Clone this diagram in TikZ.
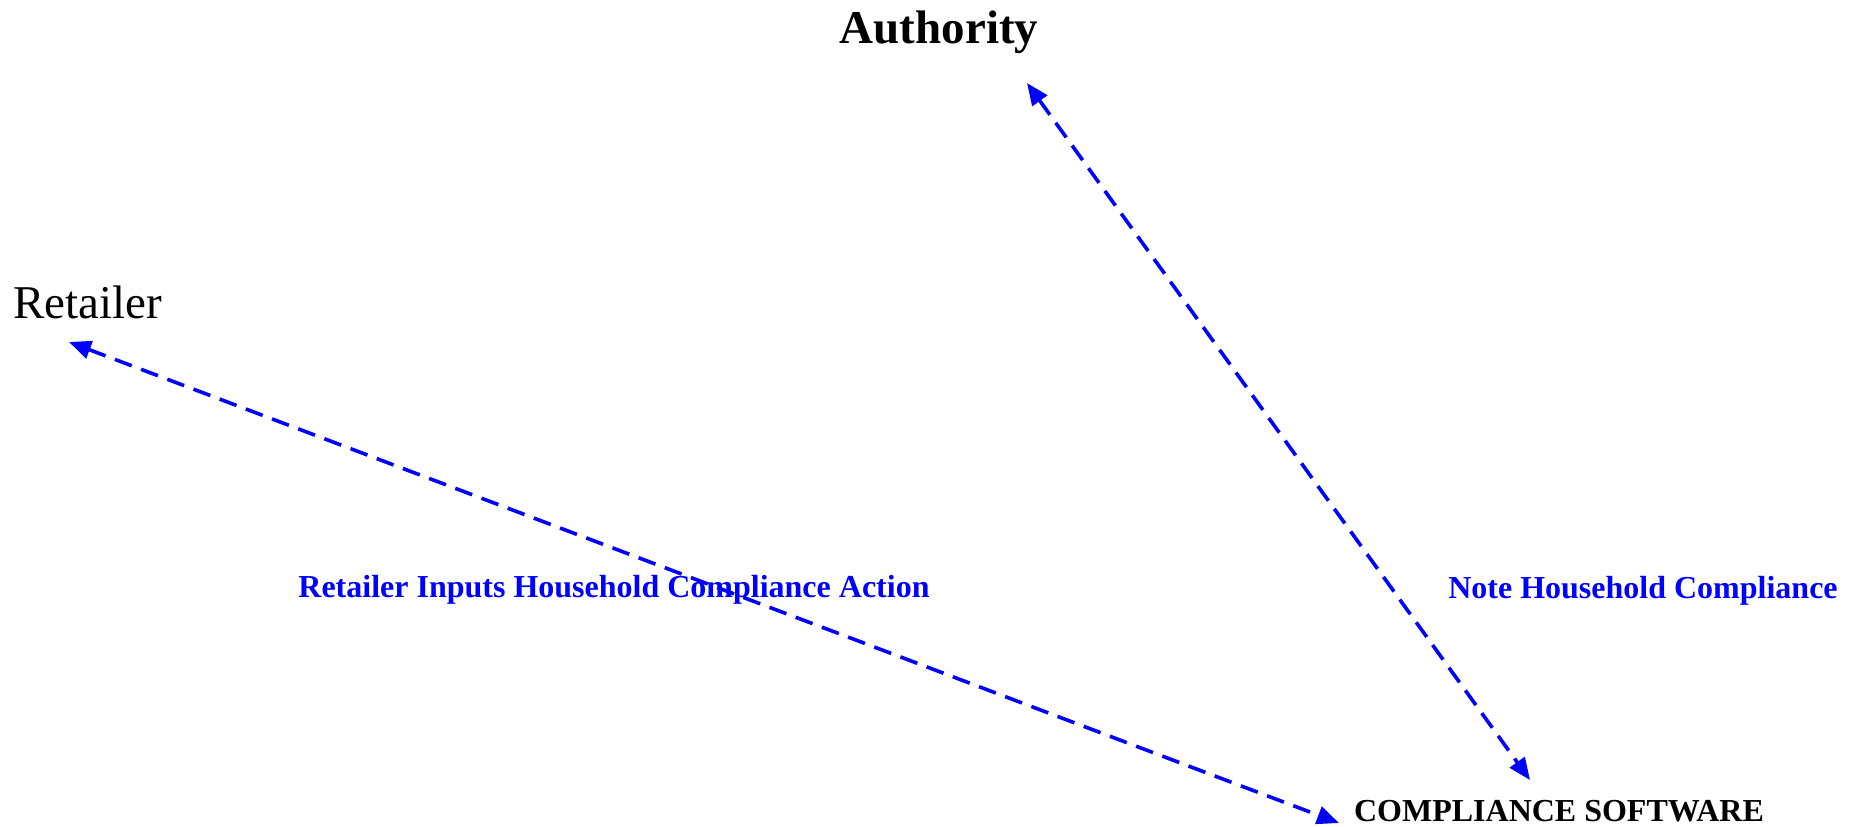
\documentclass[tikz,border=0pt]{standalone}
\usepackage{fontspec}
\setmainfont{Liberation Serif}
\usetikzlibrary{arrows.meta}

\tikzset{
	party/.style={inner sep=0pt, anchor=base, font=\fontsize{23.5}{28}\selectfont},
	flow/.style={blue, line width=1.8pt, dash pattern=on 9pt off 5pt,
		arrows={Triangle[length=11pt,width=9pt]-Triangle[length=11pt,width=9pt]}},
	flowlabel/.style={inner sep=0pt, anchor=base, text=blue, font=\fontsize{16}{19}\selectfont\bfseries}
}

\begin{document}
\begin{tikzpicture}[x=0.5pt, y=-0.5pt]
	\useasboundingbox (0,0) rectangle (1860,826);
	\node[party, font=\fontsize{23.5}{28}\selectfont\bfseries] (auth) at (939,43) {Authority};
	\node[party] (ret) at (87.5,318) {Retailer};
	\node[party, font=\fontsize{16}{19}\selectfont\bfseries] (soft) at (1559,821) {COMPLIANCE SOFTWARE};
	\coordinate (auth-end) at (1027,83);
	\coordinate (ret-end) at (69,342);
	\coordinate (soft-left) at (1339,823);
	\coordinate (soft-top) at (1530,780);
	\draw[flow] (ret-end) -- (soft-left);
	\draw[flow] (auth-end) -- (soft-top);
	\node[flowlabel] (input) at (614,597) {Retailer Inputs Household Compliance Action};
	\node[flowlabel] (note) at (1643,598) {Note Household Compliance};
\end{tikzpicture}
\end{document}
